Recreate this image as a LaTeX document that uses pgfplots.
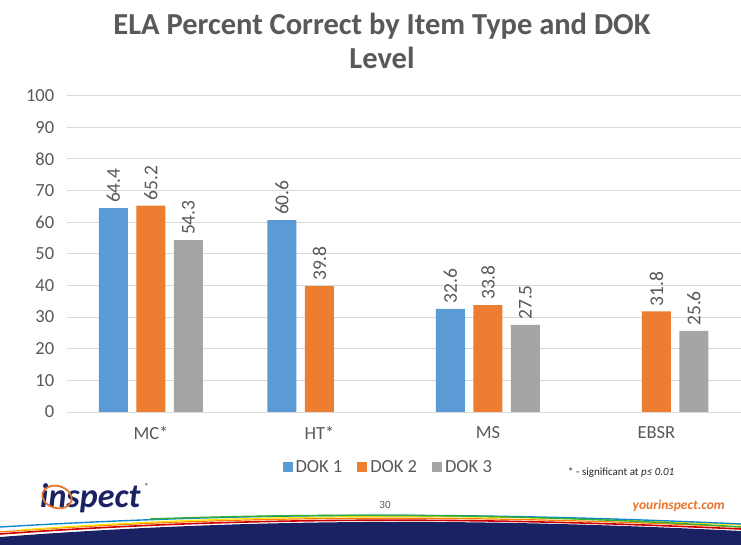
\documentclass[border=0pt]{standalone}
\usepackage{pgfplots}
\pgfplotsset{compat=1.18}
\usepackage{fontspec}
\setmainfont{Carlito}
\definecolor{dokA}{HTML}{5B9BD5}
\definecolor{dokB}{HTML}{ED7D31}
\definecolor{dokC}{HTML}{A5A5A5}
\definecolor{txt}{HTML}{595959}
\definecolor{gridc}{HTML}{D9D9D9}
\definecolor{navy}{HTML}{1B2263}
\definecolor{logoor}{HTML}{E8742A}
\begin{document}
\begin{tikzpicture}[x=1pt,y=1pt]
\path[use as bounding box, fill=white] (0,0) rectangle (741,545);
% title
\node[anchor=base, font=\bfseries\fontsize{30.5}{36}\selectfont, text=txt, inner sep=0] at (382,510) {ELA Percent Correct by Item Type and DOK};
\node[anchor=base, font=\bfseries\fontsize{30.5}{36}\selectfont, text=txt, inner sep=0] at (382,476) {Level};
\begin{axis}[
  at={(66.7pt,133pt)}, anchor=south west, scale only axis,
  width=674pt, height=316.5pt,
  xmin=-0.5, xmax=3.5, ymin=0, ymax=100,
  ybar=8.5pt, bar width=29pt,
  axis line style={draw=none},
  ymajorgrids, grid style={draw=gridc, line width=0.8pt},
  ytick={0,10,...,100},
  xtick={0,1,2,3}, xticklabels={MC*,HT*,MS,EBSR},
  major tick length=0pt,
  /pgf/number format/assume math mode=true,
  tick label style={font=\fontsize{18.5}{21}\selectfont, text=txt},
  yticklabel style={xshift=-9pt},
  xticklabel style={yshift=-11pt},
  clip=false,
  nodes near coords={\pgfmathprintnumber[fixed,fixed zerofill,precision=1]{\pgfplotspointmeta}},
  nodes near coords style={rotate=90, anchor=west, font=\fontsize{19.5}{22}\selectfont, text=txt, inner sep=5pt},
  legend columns=3,
  legend style={draw=none, fill=none, at={(0.477,-0.174)}, anchor=center,
    font=\fontsize{18.5}{21}\selectfont, text=txt},
  sq/.style={legend image code/.code={\fill[##1] (0pt,-5pt) rectangle (10pt,5pt);}},
]
\addplot[fill=dokA, draw=none, sq] coordinates {(0,64.4) (1,60.6) (2,32.6)};
\addplot[fill=dokB, draw=none, sq] coordinates {(0,65.2) (1,39.8) (2,33.8) (3,31.8)};
\addplot[fill=dokC, draw=none, sq] coordinates {(0,54.3) (2,27.5) (3,25.6)};
\legend{\kern1pt DOK 1\rule{13pt}{0pt}, \kern1pt DOK 2\rule{13pt}{0pt}, \kern1pt DOK 3}
\end{axis}
% footnote
\node[anchor=base west, inner sep=0, font=\fontsize{11}{13}\selectfont, text=black!85] at (568,69) {* - significant at \textit{p≤ 0.01}};
\node[anchor=center, inner sep=0, font=\fontsize{11}{13}\selectfont, text=txt] at (385,40) {30};
\node[anchor=base east, inner sep=0, font=\bfseries\itshape\fontsize{13.5}{16}\selectfont, text=logoor] at (725,35) {yourinspect.com};
% logo
\node[anchor=base west, inner sep=0, font=\bfseries\itshape\fontsize{34}{38}\selectfont, text=navy] at (40,37) {inspect};
\node[anchor=base west, inner sep=0, font=\bfseries\fontsize{7}{8}\selectfont, text=navy] at (145,56) {®};
\draw[logoor, line width=1.8pt, rotate around={-15:(57,48)}] (57,48) ellipse (15 and 11);
% swoosh
\fill[navy] (0,0) -- (0,8) .. controls (250,27) and (480,27) .. (741,14) -- (741,0) -- cycle;
\draw[line width=1.6pt, red!80!black] (0,11) .. controls (250,29) and (480,28) .. (741,16);
\draw[line width=1.2pt, orange] (0,13) .. controls (250,31) and (480,30) .. (741,18);
\draw[line width=1.2pt, yellow!90!orange] (20,15) .. controls (250,32) and (480,32) .. (741,20);
\draw[line width=1.4pt, cyan!70!blue] (0,18) .. controls (250,33) and (480,33) .. (741,21);
\draw[line width=1.4pt, green!60!black!80] (150,26) .. controls (350,33) and (550,30) .. (741,18);
\end{tikzpicture}
\end{document}
